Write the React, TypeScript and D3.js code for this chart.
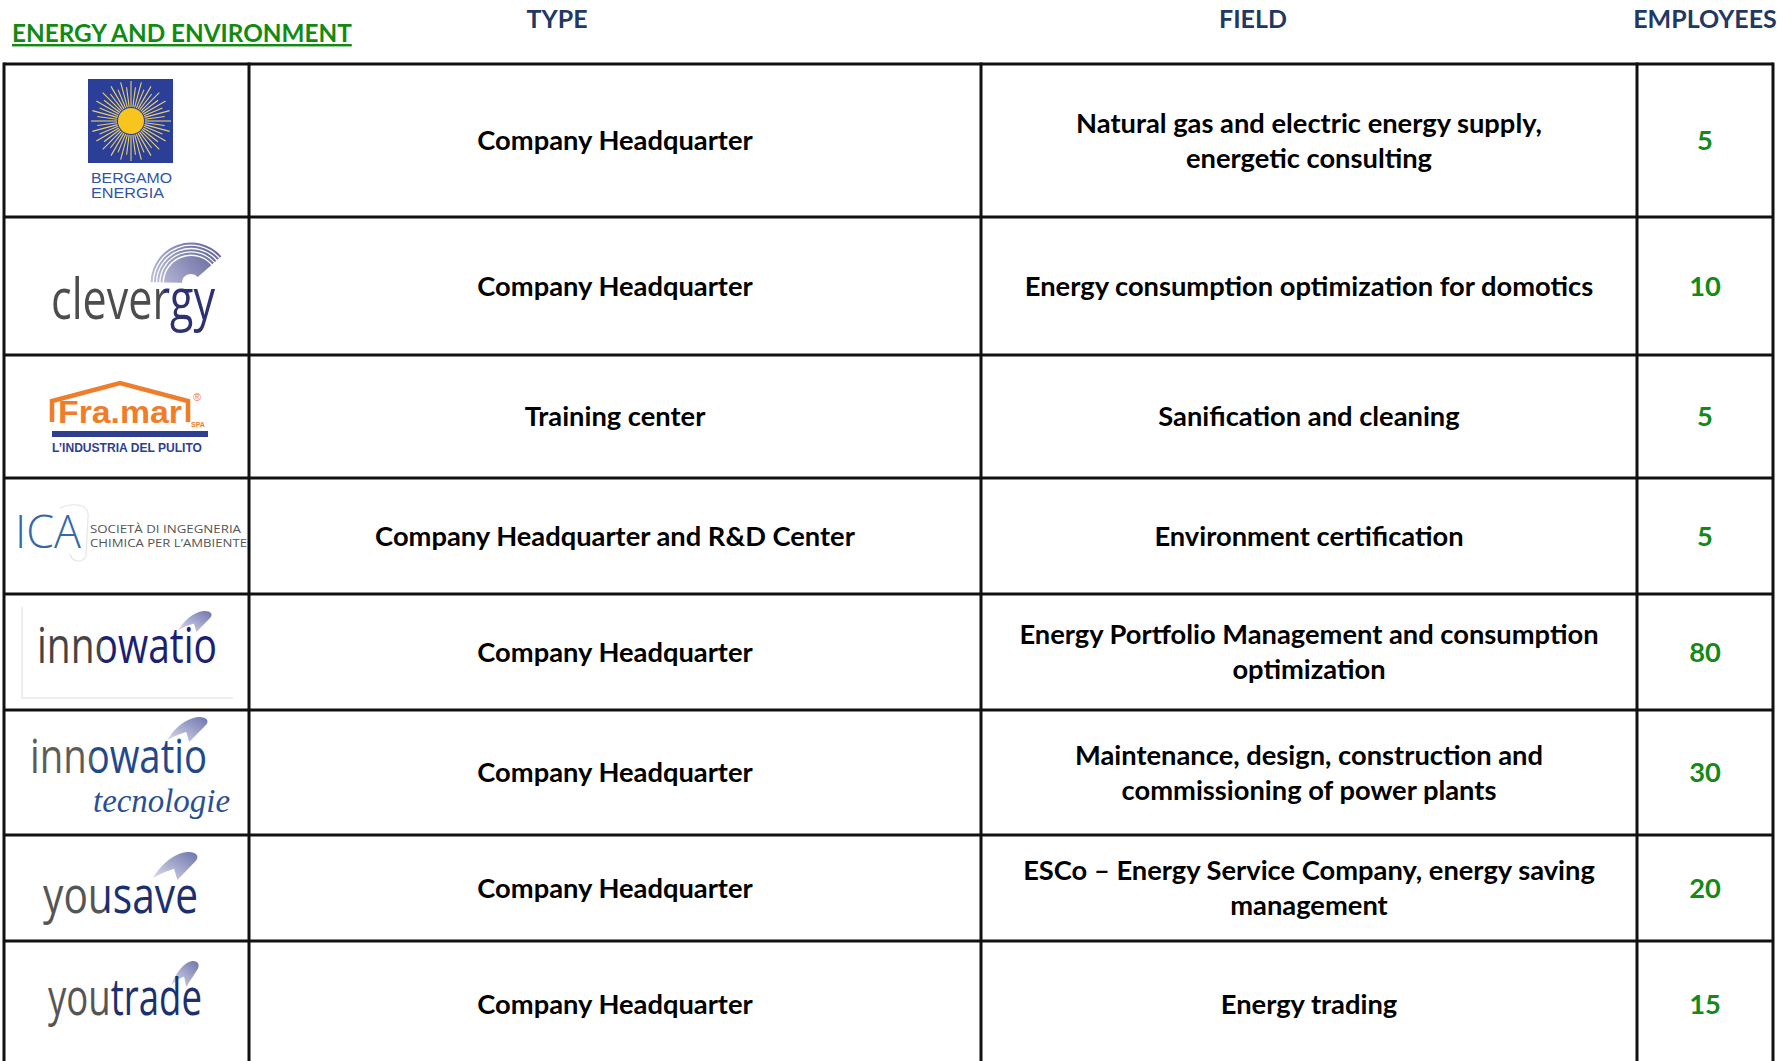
import * as d3 from "d3";

const title = "ENERGY AND ENVIRONMENT";
const headers = ["TYPE", "FIELD", "EMPLOYEES"];
const companies = [
  "Bergamo Energia",
  "Clevergy",
  "Fra.Mar",
  "ICA",
  "Innowatio",
  "Innowatio Tecnologie",
  "YouSave",
  "YouTrade",
];
const types = [
  "Company Headquarter",
  "Company Headquarter",
  "Training center",
  "Company Headquarter and R&D Center",
  "Company Headquarter",
  "Company Headquarter",
  "Company Headquarter",
  "Company Headquarter",
];
const fields = [
  ["Natural gas and electric energy supply,", "energetic consulting"],
  ["Energy consumption optimization for domotics"],
  ["Sanification and cleaning"],
  ["Environment certification"],
  ["Energy Portfolio Management and consumption", "optimization"],
  ["Maintenance, design, construction and", "commissioning of power plants"],
  ["ESCo \u2013 Energy Service Company, energy saving", "management"],
  ["Energy trading"],
];
const employees = [5, 10, 5, 5, 80, 30, 20, 15];

// layout
const W = 1777;
const H = 1061;
const rowEdges = [64, 217, 355, 478, 594, 710, 835, 941, 1068];
const colEdges = [4, 249, 981, 1637, 1773];
const headerX = [557, 1253, 1705];
const lineH = 35;

const FONT = "Lato, 'Open Sans', sans-serif";
const LOGO_FONT = "'Open Sans', 'Noto Sans', sans-serif";
const NAVY = "#1f3864";
const GREEN = "#13891a";

const rowTop = d3.scaleOrdinal<string, number>(companies, rowEdges.slice(0, -1));
const rowBottom = d3.scaleOrdinal<string, number>(companies, rowEdges.slice(1));
const rowMid = (c: string) => (rowTop(c) + rowBottom(c)) / 2;
const colMid = d3.pairs(colEdges).map(([a, b]) => (a + b) / 2);

// swoosh mark used by the innowatio / you* logos, unit box
const swooshD =
  "M0,0.94 C0.15,0.5 0.45,0.05 0.75,0.0 C0.95,-0.03 1.05,0.14 0.95,0.32 L0.54,1.0 L0.47,0.6 C0.3,0.68 0.12,0.8 0,0.94 Z";

function Swoosh({ x, y, w, h }: { x: number; y: number; w: number; h: number }) {
  return (
    <path
      d={swooshD}
      transform={`translate(${x},${y}) scale(${w},${h})`}
      fill="url(#swoosh)"
    />
  );
}

// two-coloured word mark drawn as one text; colour split by a hard-stop gradient
function Word({ id, x, y, size, weight, a, b }: {
  id: string; x: number; y: number; size: number; weight: number;
  a: { s: string; w: number; c: string }; b: { s: string; w: number; c: string };
}) {
  const f = a.w / (a.w + b.w);
  return (
    <g>
      <defs>
        <linearGradient id={id} gradientUnits="userSpaceOnUse" x1={x} y1={0} x2={x + a.w + b.w} y2={0}>
          <stop offset={f} stopColor={a.c} />
          <stop offset={f} stopColor={b.c} />
        </linearGradient>
      </defs>
      <text x={x} y={y} fontFamily={LOGO_FONT} fontWeight={weight} fontSize={size}
        fill={`url(#${id})`} textLength={a.w + b.w} lengthAdjust="spacingAndGlyphs">{a.s + b.s}</text>
    </g>
  );
}

function Bergamo({ t }: { t: number }) {
  const cx = 131;
  const cy = t + 57;
  const rays = d3.range(48);
  return (
    <g>
      <rect x={88} y={t + 15} width={85} height={84} fill="#2b3f98" />
      {rays.map((i) => {
        const a = (i * 7.5 * Math.PI) / 180;
        const r2 = i % 2 ? 34 : 40;
        return (
          <line
            key={i}
            x1={cx + Math.cos(a) * 14}
            y1={cy + Math.sin(a) * 14}
            x2={cx + Math.cos(a) * r2}
            y2={cy + Math.sin(a) * r2}
            stroke="#e8cf72"
            strokeWidth={1.1}
          />
        );
      })}
      <circle cx={cx} cy={cy} r={13} fill="#f7c51e" />
      <text x={91} y={t + 119} fontFamily="'Liberation Sans', sans-serif" fontSize={15.5}
        fill="#2f56a6" textLength={81} lengthAdjust="spacingAndGlyphs">BERGAMO</text>
      <text x={91} y={t + 134} fontFamily="'Liberation Sans', sans-serif" fontSize={15.5}
        fill="#2f56a6" textLength={73} lengthAdjust="spacingAndGlyphs">ENERGIA</text>
    </g>
  );
}

function Clevergy({ t }: { t: number }) {
  const cx = 191;
  const cy = t + 66;
  const a0 = -1.55;
  const a1 = 0.85;
  const rings = d3.range(4);
  const arc = d3.arc<any>();
  return (
    <g>
      <path
        transform={`translate(${cx},${cy})`}
        d={arc({ innerRadius: 9, outerRadius: 27, startAngle: a0, endAngle: a1 }) || ""}
        fill="url(#fan)"
      />
      {rings.map((i) => (
        <path
          key={i}
          transform={`translate(${cx},${cy})`}
          d={arc({ innerRadius: 28.5 + i * 3.3, outerRadius: 30.5 + i * 3.3, startAngle: a0, endAngle: a1 }) || ""}
          fill="url(#fan)"
        />
      ))}
      <Word id="w-clevergy" x={51} y={t + 102} size={56} weight={400}
        a={{ s: "clever", w: 113, c: "#4d4d4d" }} b={{ s: "gy", w: 51, c: "#2d3170" }} />
    </g>
  );
}

function Framar({ t }: { t: number }) {
  const orange = "#ef7d2a";
  const blue = "#2e3f8f";
  const roof = d3.line()([
    [52, t + 67],
    [52, t + 46],
    [120, t + 28],
    [188, t + 46],
    [188, t + 67],
  ]);
  return (
    <g>
      <path d={roof || ""} fill="none" stroke={orange} strokeWidth={4.5} />
      <text x={120} y={t + 68} textAnchor="middle" fontFamily="'Liberation Sans', sans-serif"
        fontWeight={700} fontSize={32} fill={orange} textLength={124}
        lengthAdjust="spacingAndGlyphs">Fra.mar</text>
      <text x={193} y={t + 46} fontFamily="'Liberation Sans', sans-serif" fontSize={11} fill={orange}>
        ®
      </text>
      <text x={191} y={t + 72} fontFamily="'Liberation Sans', sans-serif" fontWeight={700}
        fontSize={7} fill={orange}>SPA</text>
      <rect x={52} y={t + 76} width={156} height={6} fill={blue} />
      <text x={52} y={t + 97} fontFamily="'Liberation Sans', sans-serif" fontWeight={700}
        fontSize={12} fill={blue} textLength={150} lengthAdjust="spacingAndGlyphs">
        L’INDUSTRIA DEL PULITO
      </text>
    </g>
  );
}

function Ica({ t }: { t: number }) {
  return (
    <g>
      <path
        d={`M60,${t + 30} C75,${t + 24} 90,${t + 26} 88,${t + 40} L86,${t + 78} C82,${t + 86} 72,${t + 84} 70,${t + 76}`}
        fill="none" stroke="#e4e6ea" strokeWidth={1.2}
      />
      <text x={15} y={t + 70} fontFamily={LOGO_FONT} fontWeight={300} fontSize={46}
        fill="#3569a8" textLength={66} lengthAdjust="spacingAndGlyphs">ICA</text>
      <text x={90} y={t + 55} fontFamily={LOGO_FONT} fontSize={11.5} fill="#555"
        textLength={151} lengthAdjust="spacingAndGlyphs">SOCIETÀ DI INGEGNERIA</text>
      <text x={90} y={t + 69} fontFamily={LOGO_FONT} fontSize={11.5} fill="#555"
        textLength={157} lengthAdjust="spacingAndGlyphs">CHIMICA PER L’AMBIENTE</text>
    </g>
  );
}

function Innowatio({ t }: { t: number }) {
  return (
    <g>
      <path d={`M22,${t + 13} L22,${t + 104} L233,${t + 104}`} fill="none" stroke="#dddddd" strokeWidth={1} />
      <Swoosh x={178} y={t + 17} w={34} h={21} />
      <Word id="w-innowatio" x={37} y={t + 69} size={50} weight={400}
        a={{ s: "inno", w: 65, c: "#454545" }} b={{ s: "watio", w: 115, c: "#1c1f72" }} />
    </g>
  );
}

function InnowatioTec({ t }: { t: number }) {
  return (
    <g>
      <Swoosh x={167} y={t + 7} w={41} h={25} />
      <Word id="w-innowatio-tec" x={30} y={t + 63} size={48} weight={400}
        a={{ s: "inno", w: 62, c: "#5c5c58" }} b={{ s: "watio", w: 115, c: "#23488a" }} />
      <text x={93} y={t + 102} fontFamily="'Liberation Serif', serif" fontStyle="italic"
        fontSize={34} fill="#2a4f94" textLength={137} lengthAdjust="spacingAndGlyphs">
        tecnologie
      </text>
    </g>
  );
}

function You({ t, word, x, w1, w2, base, sw }: {
  t: number; word: string; x: number; w1: number; w2: number; base: number; sw: number[];
}) {
  return (
    <g>
      <Swoosh x={sw[0]} y={t + sw[1]} w={sw[2]} h={sw[3]} />
      <Word id={"w-you" + word} x={x} y={t + base} size={52} weight={400}
        a={{ s: "you", w: w1, c: "#555555" }} b={{ s: word, w: w2, c: "#1e2f6e" }} />
    </g>
  );
}

function Logo({ i, t }: { i: number; t: number }) {
  switch (i) {
    case 0: return <Bergamo t={t} />;
    case 1: return <Clevergy t={t} />;
    case 2: return <Framar t={t} />;
    case 3: return <Ica t={t} />;
    case 4: return <Innowatio t={t} />;
    case 5: return <InnowatioTec t={t} />;
    case 6: return <You t={t} word="save" x={43} w1={62} w2={93} base={78} sw={[153, 17, 45, 28]} />;
    default: return <You t={t} word="trade" x={48} w1={62} w2={92} base={74} sw={[171, 20, 28, 26]} />;
  }
}

export default function App() {
  return (
    <div style={{ position: "absolute", left: 0, top: 0, width: W, height: H, overflow: "hidden", background: "#fff" }}>
      <svg width={W} height={H} viewBox={`0 0 ${W} ${H}`}>
        <defs>
          <linearGradient id="swoosh" x1="0" y1="1" x2="1" y2="0">
            <stop offset="0" stopColor="#dcdeec" />
            <stop offset="1" stopColor="#6e74ad" />
          </linearGradient>
          <linearGradient id="fan" gradientUnits="userSpaceOnUse" x1="150" y1="290" x2="230" y2="230">
            <stop offset="0" stopColor="#e0e0ec" />
            <stop offset="0.6" stopColor="#8e90bb" />
            <stop offset="1" stopColor="#5c5f95" />
          </linearGradient>
        </defs>

        {/* headings */}
        <text x={12} y={42} fontFamily={FONT} fontWeight={700} fontSize={24.3} fill="#118a11"
          textDecoration="underline">{title}</text>
        {headers.map((h, i) => (
          <text key={h} x={headerX[i]} y={28} textAnchor="middle" fontFamily={FONT}
            fontWeight={700} fontSize={25} fill={NAVY}>{h}</text>
        ))}

        {/* logos */}
        {companies.map((c, i) => (
          <Logo key={c} i={i} t={rowTop(c)} />
        ))}

        {/* cell text */}
        {companies.map((c, i) => {
          const yc = rowMid(c);
          const lines = fields[i];
          return (
            <g key={c} fontFamily={FONT} fontWeight={700} fontSize={27.3}>
              <text x={colMid[1]} y={yc} dy="0.36em" textAnchor="middle" fill="#000">{types[i]}</text>
              {lines.map((l, j) => (
                <text key={j} x={colMid[2]} y={yc + (j - (lines.length - 1) / 2) * lineH} dy="0.36em"
                  textAnchor="middle" fill="#000">{l}</text>
              ))}
              <text x={colMid[3]} y={yc} dy="0.36em" textAnchor="middle" fill={GREEN}>{employees[i]}</text>
            </g>
          );
        })}

        {/* grid */}
        {rowEdges.map((y, i) => (
          <line key={"h" + i} x1={colEdges[0]} x2={colEdges[colEdges.length - 1]} y1={y} y2={y}
            stroke="#111" strokeWidth={3} />
        ))}
        {colEdges.map((x, i) => (
          <line key={"v" + i} x1={x} x2={x} y1={rowEdges[0] - 1.5} y2={rowEdges[rowEdges.length - 1]}
            stroke="#111" strokeWidth={3} />
        ))}
      </svg>
    </div>
  );
}
